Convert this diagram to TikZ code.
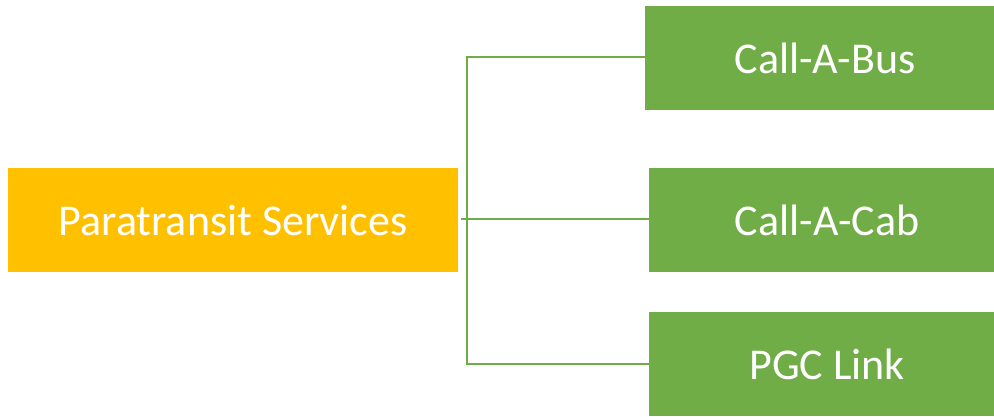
\documentclass[tikz,border=0pt]{standalone}
\usepackage{fontspec}
\setmainfont{Carlito}
\definecolor{orng}{HTML}{FFC000}
\definecolor{grn}{HTML}{70AD47}
\begin{document}
\begin{tikzpicture}[x=1pt,y=-1pt,
  box/.style={draw=none,text=white,inner sep=0pt,anchor=north west,font=\fontsize{44}{52}\selectfont},
  conn/.style={draw=grn,line width=2pt}]
\useasboundingbox (0,0) rectangle (994,416);
\begin{scope}
\clip (0,0) rectangle (994,416);
\node[box,fill=orng,minimum width=450pt,minimum height=104pt] (p) at (8,168) {Paratransit Services};
\node[box,fill=grn,minimum width=360pt,minimum height=104pt] (b) at (645,6) {Call-A-Bus};
\node[box,fill=grn,minimum width=356pt,minimum height=104pt] (c) at (649,168) {Call-A-Cab};
\node[box,fill=grn,minimum width=356pt,minimum height=104pt] (l) at (649,312) {PGC Link};
\end{scope}
\coordinate (j) at (467,219);
\draw[conn] ([xshift=3pt]p.east |- j) -- (c.west |- j);
\draw[conn] (b.west |- 0,57) -| (467,364) -- (l.west |- 0,364);
\end{tikzpicture}
\end{document}
